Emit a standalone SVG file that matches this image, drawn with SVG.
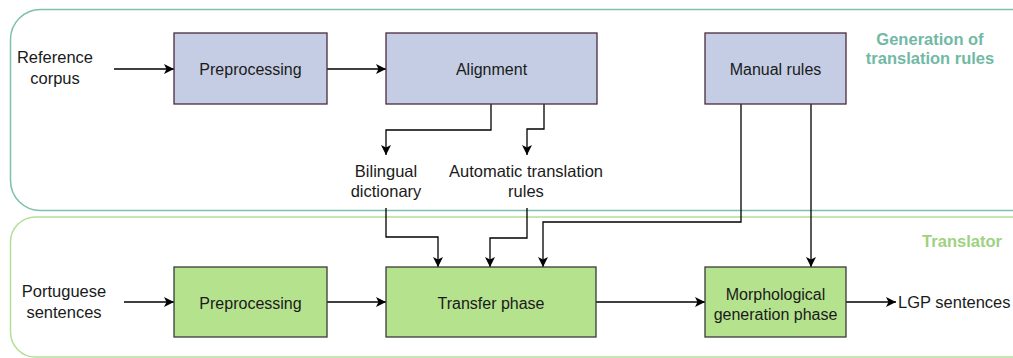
<svg xmlns="http://www.w3.org/2000/svg" width="1013" height="358" viewBox="0 0 1013 358">
<style>
  .lbl{font-family:"Liberation Sans",Arial,sans-serif;font-size:16.5px;fill:#1a1a1a;text-anchor:middle}
  .lbls{font-family:"Liberation Sans",Arial,sans-serif;font-size:16.5px;fill:#1a1a1a;text-anchor:start}
  .box{font-family:"Liberation Sans",Arial,sans-serif;font-size:16px;fill:#1a1a1a;text-anchor:middle}
  .grp{font-family:"Liberation Sans",Arial,sans-serif;font-size:16.5px;font-weight:bold;text-anchor:middle}
  .top{fill:#c4cde3;stroke:#4b2a3c;stroke-width:1.3}
  .bot{fill:#b5e28d;stroke:#3a3a3a;stroke-width:1.3}
  .edge{fill:none;stroke:#000;stroke-width:1.3}
</style>
<defs>
  <marker id="arr" viewBox="0 0 10 10" refX="10" refY="5" markerWidth="10" markerHeight="10" markerUnits="userSpaceOnUse" orient="auto">
    <path d="M0,0 L10,5 L0,10 L2.5,5 Z" fill="#000"/>
  </marker>
</defs>
<rect width="1013" height="358" fill="#fff"/>
<g id="group-generation">
  <rect x="10.5" y="9.5" width="1030" height="201" rx="30" ry="30" fill="none" stroke="#7fbfac" stroke-width="1.5"/>
  <text class="grp" x="930" y="45" fill="#72b9a5">Generation of</text>
  <text class="grp" x="930" y="64" fill="#72b9a5">translation rules</text>
</g>
<g id="group-translator">
  <rect x="10.5" y="217" width="1030" height="140" rx="25" ry="25" fill="none" stroke="#b3de98" stroke-width="1.5"/>
  <text class="grp" x="962" y="247" fill="#9ed27f">Translator</text>
</g>
<g id="connectors">
  <path class="edge" d="M114,69 H174" marker-end="url(#arr)"/>
  <path class="edge" d="M327,69 H386" marker-end="url(#arr)"/>
  <path class="edge" d="M491,104 V130 H386 V155" marker-end="url(#arr)"/>
  <path class="edge" d="M544,104 V129 H527 V155" marker-end="url(#arr)"/>
  <path class="edge" d="M741,104 V222 H543 V267" marker-end="url(#arr)"/>
  <path class="edge" d="M811,104 V267" marker-end="url(#arr)"/>
  <path class="edge" d="M386,208 V237 H438 V267" marker-end="url(#arr)"/>
  <path class="edge" d="M527,208 V238 H490 V267" marker-end="url(#arr)"/>
  <path class="edge" d="M124,302 H174" marker-end="url(#arr)"/>
  <path class="edge" d="M327,302 H386" marker-end="url(#arr)"/>
  <path class="edge" d="M596,302 H705" marker-end="url(#arr)"/>
  <path class="edge" d="M846,302 H896" marker-end="url(#arr)"/>
</g>
<g id="reference-corpus">
  <text class="lbl" x="55" y="63">Reference</text>
  <text class="lbl" x="55" y="84">corpus</text>
</g>
<g id="preprocessing-top">
  <rect class="top" x="174" y="33" width="153" height="71"/>
  <text class="box" x="250.5" y="75">Preprocessing</text>
</g>
<g id="alignment">
  <rect class="top" x="386" y="33" width="211" height="71"/>
  <text class="box" x="491.5" y="75">Alignment</text>
</g>
<g id="manual-rules">
  <rect class="top" x="705" y="33" width="141" height="71"/>
  <text class="box" x="775.5" y="75">Manual rules</text>
</g>
<g id="bilingual-dictionary">
  <text class="lbl" x="386" y="177">Bilingual</text>
  <text class="lbl" x="386" y="197">dictionary</text>
</g>
<g id="automatic-rules">
  <text class="lbl" x="526" y="177">Automatic translation</text>
  <text class="lbl" x="526" y="197">rules</text>
</g>
<g id="portuguese-sentences">
  <text class="lbl" x="64" y="297">Portuguese</text>
  <text class="lbl" x="64" y="318">sentences</text>
</g>
<g id="preprocessing-bottom">
  <rect class="bot" x="174" y="267" width="153" height="70"/>
  <text class="box" x="250.5" y="309">Preprocessing</text>
</g>
<g id="transfer-phase">
  <rect class="bot" x="386" y="267" width="210" height="70"/>
  <text class="box" x="491" y="309">Transfer phase</text>
</g>
<g id="morphological">
  <rect class="bot" x="705" y="267" width="141" height="70"/>
  <text class="box" x="775.5" y="300">Morphological</text>
  <text class="box" x="775.5" y="320">generation phase</text>
</g>
<g id="lgp-sentences">
  <text class="lbls" x="898" y="308">LGP sentences</text>
</g>
</svg>
